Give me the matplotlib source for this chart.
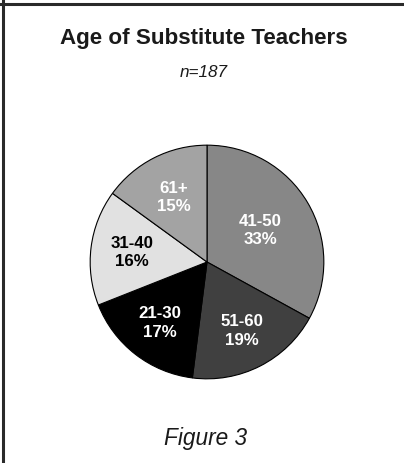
import numpy as np
import matplotlib
matplotlib.use("Agg")
import matplotlib.pyplot as plt
from matplotlib.lines import Line2D

# ---------------------------------------------------------------
#   Age of Substitute Teachers (pie, n=187)
# ---------------------------------------------------------------

groups = ["41-50", "51-60", "21-30", "31-40", "61+"]
shares = [33, 19, 17, 16, 15]
colors = ["#878787", "#404040", "#000000", "#e1e1e1", "#a3a3a3"]
text_colors = ["white", "white", "white", "black", "white"]

plt.rcParams['font.family'] = ['Liberation Sans', 'DejaVu Sans']

fig = plt.figure(figsize=(4.04, 4.63), dpi=100)
fig.patch.set_facecolor("white")

# frame lines on top and left edge
fig.add_artist(Line2D([0, 1], [1 - 3.5 / 463, 1 - 3.5 / 463], color="#2a2a2a", lw=2.2))
fig.add_artist(Line2D([2.5 / 404, 2.5 / 404], [0, 1], color="#2a2a2a", lw=2.2))

ax = fig.add_axes([89 / 404, 83 / 463, 236 / 404, 236 / 463])
wedges, _ = ax.pie(shares, colors=colors, startangle=90, counterclock=False,
                   wedgeprops=dict(edgecolor="black", linewidth=0.8))
ax.set_xlim(-1.01, 1.01)
ax.set_ylim(-1.01, 1.01)
ax.set_aspect("equal")
ax.axis("off")

# label distances (fraction of radius)
dists = [0.53, 0.66, 0.66, 0.65, 0.62]
for w, g, s, tc, d in zip(wedges, groups, shares, text_colors, dists):
    ang = np.deg2rad((w.theta1 + w.theta2) / 2)
    ax.text(d * np.cos(ang), d * np.sin(ang), "%s\n%d%%" % (g, s),
            ha="center", va="center", color=tc, fontsize=12.2,
            fontweight="bold", linespacing=1.32)

fig.text(0.505, 1 - 44 / 463, "Age of Substitute Teachers", ha="center",
         va="baseline", fontsize=16.1, fontweight="bold", color="#1a1a1a")
fig.text(0.505, 1 - 77 / 463, "n=187", ha="center", va="baseline",
         fontsize=12.3, style="italic", color="#1a1a1a")
fig.text(0.51, 1 - 445 / 463, "Figure 3", ha="center", va="baseline",
         fontsize=16.3, style="italic", color="#1a1a1a")

fig.savefig("out.png", dpi=100)
